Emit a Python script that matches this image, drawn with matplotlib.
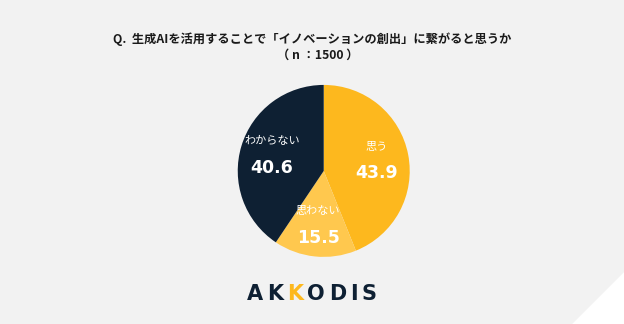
import matplotlib
matplotlib.use("Agg")
import matplotlib.pyplot as plt
import numpy as np
from matplotlib.patches import Polygon

plt.rcParams['font.family'] = ['Noto Sans CJK JP', 'DejaVu Sans']

title_line1 = "Q.  生成AIを活用することで「イノベーションの創出」に繋がると思うか"
title_line2 = "（ n ：1500 ）"
categories = ["思う", "思わない", "わからない"]
values = [43.9, 15.5, 40.6]
colors = ["#FDB81E", "#FFC84E", "#0E2033"]

fig = plt.figure(figsize=(6.24, 3.24), dpi=100)
fig.patch.set_facecolor("#F2F2F2")
fig.patches.append(Polygon([[1.0, 0.160], [0.917, 0.0], [1.0, 0.0]],
                           closed=True, transform=fig.transFigure,
                           facecolor="white", edgecolor="none", zorder=0))

fig.text(312 / 624, 1 - 39 / 324, title_line1, ha="center", va="center",
         fontsize=8.8, fontweight="bold", color="#1A1A1A")
fig.text(318 / 624, 1 - 55 / 324, title_line2, ha="center", va="center",
         fontsize=8.8, fontweight="bold", color="#1A1A1A")

ax = fig.add_axes([0.381, 0.207, 0.2756, 0.531])
wedges, _ = ax.pie(values, colors=colors, startangle=90, counterclock=False,
                   radius=1.0, wedgeprops=dict(linewidth=0))
ax.set_xlim(-1, 1)
ax.set_ylim(-1, 1)
ax.set_aspect("equal")
ax.axis("off")

for w, cat, v in zip(wedges, categories, values):
    ang = np.deg2rad((w.theta1 + w.theta2) / 2)
    r = 0.63
    x, y = r * np.cos(ang), r * np.sin(ang) - 0.03
    ax.text(x, y + 0.19, cat, ha="center", va="center", fontsize=8,
            color="white")
    ax.text(x, y - 0.12, f"{v:.1f}", ha="center", va="center", fontsize=12.5,
            fontweight="bold", color="white", family="DejaVu Sans")

# logo
logo_letters = ["A", "K", "K", "O", "D", "I", "S"]
logo_colors = ["#0E2033", "#0E2033", "#FDB81E", "#0E2033", "#0E2033", "#0E2033", "#0E2033"]
renderer = fig.canvas.get_renderer()
xpix = 247.0
for ch, c in zip(logo_letters, logo_colors):
    t = fig.text(xpix / 624, 1 - 294 / 324, ch, ha="left", va="center",
                 fontsize=15, fontweight="bold", color=c, family="DejaVu Sans")
    bb = t.get_window_extent(renderer=renderer)
    xpix += bb.width + 4.0

fig.savefig("out.png", dpi=100, facecolor=fig.get_facecolor())
